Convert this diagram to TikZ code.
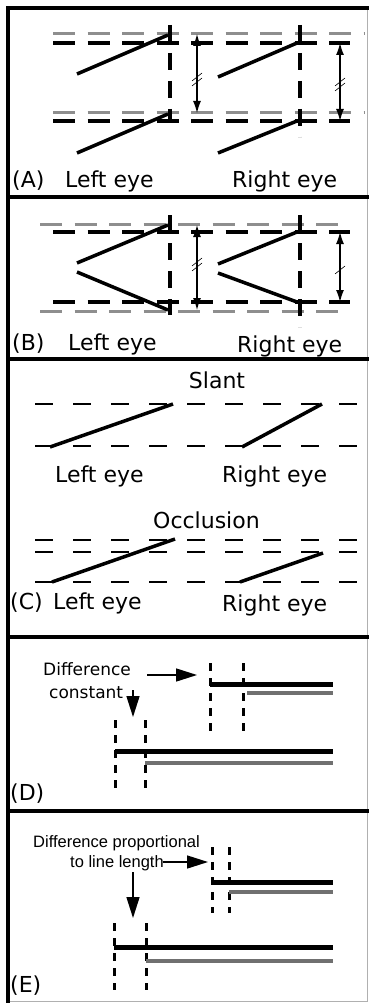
\documentclass[tikz,border=0pt]{standalone}
\usepackage{fontspec}
\setmainfont{DejaVu Sans}
\newfontfamily\notefont{Liberation Sans}
\usetikzlibrary{arrows.meta}
\definecolor{lightgr}{HTML}{8E8E8E}
\definecolor{darkgr}{HTML}{707070}
\begin{document}
\begin{tikzpicture}[x=1pt,y=-1pt,
  frame/.style={line width=4pt},
  eyeline/.style={line width=3.5pt},
  blackdash/.style={line width=3.5pt,dash pattern=on 22pt off 12.5pt},
  graydash/.style={line width=3pt,lightgr,dash pattern=on 22pt off 12.5pt},
  vdash/.style={line width=3.5pt,dash pattern=on 17pt off 11pt},
  thindash/.style={line width=2pt,dash pattern=on 18pt off 20pt},
  gapdash/.style={line width=3pt,dash pattern=on 8pt off 7pt},
  measure/.style={line width=1.2pt,{Latex[length=12pt,width=8pt]}-{Latex[length=12pt,width=8pt]}},
  pointer/.style={line width=1.5pt,-{Triangle[length=21pt,width=13pt]}},
  lab/.style={font=\fontsize{22}{22}\selectfont,anchor=base west,inner sep=0pt},
  note/.style={font=\fontsize{17}{20}\selectfont,anchor=base west,inner sep=0pt},
  enote/.style={font=\notefont\fontsize{16.5}{18}\selectfont,anchor=base west,inner sep=0pt}]
  \useasboundingbox (0,0) rectangle (369,1003);
  \draw[lightgr!70,line width=1pt] (367,8) -- (367,1001) -- (8,1001);
  \draw[frame] (8,1003) -- (8,8) -- (369,8);
  \draw[frame] (8,197) -- (369,197);
  \draw[frame] (8,359) -- (369,359);
  \draw[frame] (8,637) -- (369,637);
  \draw[frame] (8,811) -- (369,811);
  % (A)
  \draw[graydash] (53,34) -- (365,34);
  \draw[blackdash] (53,43) -- (350,43);
  \draw[graydash] (53,113) -- (365,113);
  \draw[blackdash] (53,121) -- (350,121);
  \draw[vdash] (170,25) -- (170,123);
  \draw[vdash] (300,25) -- (300,137);
  \draw[eyeline] (77,74) -- (168,35);
  \draw[eyeline] (77,153) -- (168,114);
  \draw[eyeline] (218,77) -- (297,43);
  \draw[eyeline] (218,153) -- (297,121);
  \draw[measure] (197,34) -- (197,113);
  \draw[measure] (340,43) -- (340,121);
  \draw[semithick] (192,86) -- ++(10,-8) (192,81) -- ++(10,-8);
  \draw[semithick] (335,91) -- ++(10,-8) (335,86) -- ++(10,-8);
  \node[lab] (labA) at (12,187) {(A)};
  \node[lab] (leftA) at (65,187) {Left eye};
  \node[lab] (rightA) at (232,187) {Right eye};
  % (B)
  \draw[graydash] (40,224) -- (350,224);
  \draw[blackdash] (53,232) -- (350,232);
  \draw[blackdash] (53,302) -- (350,302);
  \draw[graydash] (40,311) -- (350,311);
  \draw[vdash] (170,215) -- (170,315);
  \draw[vdash] (300,215) -- (300,327);
  \draw[eyeline] (168,225) -- (77,263) (77,272) -- (168,310);
  \draw[eyeline] (297,232) -- (218,264) (218,273) -- (297,302);
  \draw[measure] (197,225) -- (197,310);
  \draw[measure] (340,232) -- (340,302);
  \draw[semithick] (192,271) -- ++(10,-8) (192,266) -- ++(10,-8);
  \draw[semithick] (335,274) -- ++(10,-8);
  \node[lab] (labB) at (12,350) {(B)};
  \node[lab] (leftB) at (68,350) {Left eye};
  \node[lab] (rightB) at (237,352) {Right eye};
  % (C)
  \node[lab,anchor=base] (slant) at (217,388) {Slant};
  \draw[thindash] (35,404) -- (360,404);
  \draw[thindash] (35,446) -- (360,446);
  \draw[eyeline] (50,447) -- (173,404);
  \draw[eyeline] (242,447) -- (322,404);
  \node[lab] (leftS) at (55,482) {Left eye};
  \node[lab] (rightS) at (222,482) {Right eye};
  \node[lab] (occl) at (153,528) {Occlusion};
  \draw[thindash] (35,540) -- (360,540);
  \draw[thindash] (35,552) -- (360,552);
  \draw[thindash] (35,582) -- (360,582);
  \draw[eyeline] (52,582) -- (175,539);
  \draw[eyeline] (240,582) -- (323,553);
  \node[lab] (labC) at (10,609) {(C)};
  \node[lab] (leftO) at (53,609) {Left eye};
  \node[lab] (rightO) at (222,611) {Right eye};
  % (D)
  \node[note] (diffD) at (43,675) {Difference};
  \node[note] (constD) at (49,698) {constant};
  \coordinate (fromD1) at (147,675);
  \coordinate (toD1) at (197,675);
  \coordinate (fromD2) at (133,690);
  \coordinate (toD2) at (133,717);
  \draw[pointer] (fromD1) -- (toD1);
  \draw[pointer] (fromD2) -- (toD2);
  \draw[gapdash] (210,663) -- (210,732);
  \draw[gapdash] (243,663) -- (243,732);
  \draw[line width=5pt] (210,684) -- (333,684);
  \draw[darkgr,line width=4pt] (247,693) -- (333,693);
  \draw[gapdash] (115,720) -- (115,788);
  \draw[gapdash] (145,720) -- (145,788);
  \draw[line width=5pt] (115,751) -- (333,751);
  \draw[darkgr,line width=4pt] (145,763) -- (333,763);
  \node[lab] (labD) at (10,800) {(D)};
  % (E)
  \node[enote] (diffE) at (33,847) {Difference proportional};
  \node[enote] (lenE) at (70,867) {to line length};
  \coordinate (fromE1) at (163,862);
  \coordinate (toE1) at (208,862);
  \coordinate (fromE2) at (133,872);
  \coordinate (toE2) at (133,918);
  \draw[pointer] (fromE1) -- (toE1);
  \draw[pointer] (fromE2) -- (toE2);
  \draw[gapdash] (212,847) -- (212,913);
  \draw[gapdash] (229,847) -- (229,913);
  \draw[line width=5pt] (212,882) -- (333,882);
  \draw[darkgr,line width=4pt] (229,892) -- (333,892);
  \draw[gapdash] (114,923) -- (114,990);
  \draw[gapdash] (146,923) -- (146,990);
  \draw[line width=5pt] (114,947) -- (333,947);
  \draw[darkgr,line width=4pt] (146,961) -- (333,961);
  \node[lab] (labE) at (10,992) {(E)};
\end{tikzpicture}
\end{document}
